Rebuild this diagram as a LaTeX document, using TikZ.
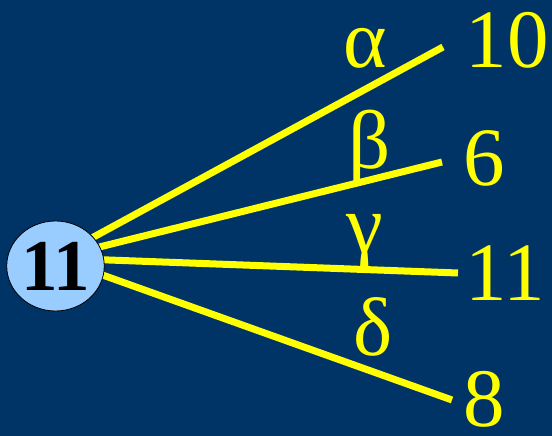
\documentclass[tikz,border=0pt]{standalone}
\usepackage{fontspec}
\setmainfont{Liberation Serif}
\newfontfamily\lblfont{Liberation Serif}
\usetikzlibrary{shapes.geometric}
\definecolor{bg}{RGB}{0,51,102}
\definecolor{nodefill}{RGB}{153,204,255}
\definecolor{ylw}{RGB}{255,255,0}
\begin{document}
\begin{tikzpicture}[x=1pt,y=-1pt,
  lbl/.style={text=ylw, font=\lblfont\fontsize{83}{83}\selectfont, inner sep=0pt, anchor=base},
  spoke/.style={draw=ylw, line width=7pt},
  hubnode/.style={ellipse, draw=black, line width=0.8pt, fill=nodefill, minimum width=81pt, minimum height=90pt, inner sep=0pt, font=\lblfont\bfseries\fontsize{73}{73}\selectfont}]
\fill[bg] (0,0) rectangle (552,436);
\useasboundingbox (0,0) rectangle (552,436);
\coordinate (hub) at (55,258);
\coordinate (e1) at (443,47);
\coordinate (e2) at (442,162);
\coordinate (e3) at (458,273);
\coordinate (e4) at (452,400);
\draw[spoke] (hub) -- (e1);
\draw[spoke] (hub) -- (e2);
\draw[spoke] (hub) -- (e3);
\draw[spoke] (hub) -- (e4);
\node[hubnode] (c) at (55.5,266) {11};
\node[lbl] (n10) at (507,67) {10};
\node[lbl] (n6) at (484.5,185) {6};
\node[lbl] (n11) at (505,300) {11};
\node[lbl] (n8) at (484.5,426) {8};
\node[lbl] (ga) at (365,68) {α};
\node[lbl] (gb) at (369.5,168) {β};
\node[lbl] (gc) at (365,252) {γ};
\node[lbl] (gd) at (373.5,355) {δ};
\end{tikzpicture}
\end{document}
